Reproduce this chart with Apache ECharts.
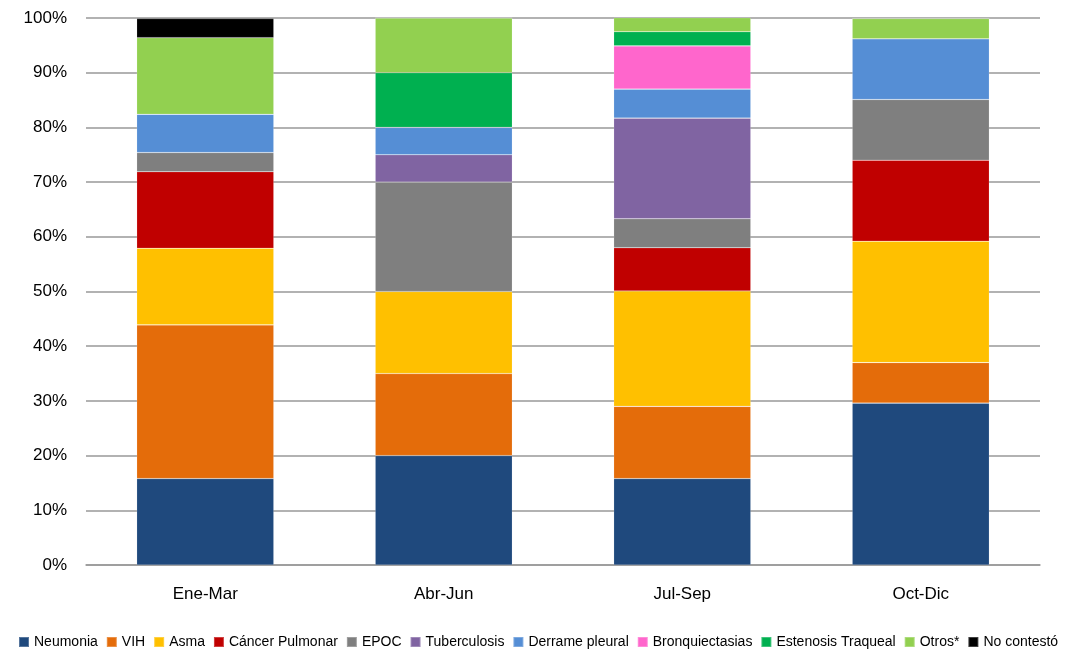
<!DOCTYPE html>
<html>
<head>
<meta charset="utf-8">
<script src="https://cdn.jsdelivr.net/npm/echarts@6/dist/echarts.min.js"></script>
<style>
  html, body { margin: 0; padding: 0; background: #fff; }
  #main { width: 1066px; height: 652px; }
</style>
</head>
<body>
<div id="main"></div>
<script>
(function () {
    'use strict';

    var categories = ['Ene-Mar', 'Abr-Jun', 'Jul-Sep', 'Oct-Dic'];
    var seriesNames = ['Neumonia', 'VIH', 'Asma', 'Cáncer Pulmonar', 'EPOC', 'Tuberculosis',
        'Derrame pleural', 'Bronquiectasias', 'Estenosis Traqueal', 'Otros*', 'No contestó'];
    var colors = ['#1f497d', '#e46c0a', '#ffc000', '#c00000', '#7f7f7f', '#8064a2',
        '#558ed5', '#ff66cc', '#00b050', '#92d050', '#000000'];

    // porcentajes por trimestre
    var neumonia    = [15.8, 20.0, 15.8, 29.6];
    var vih         = [28.1, 15.0, 13.2, 7.4];
    var asma        = [14.0, 15.0, 21.1, 22.2];
    var cancer      = [14.0, 0, 7.9, 14.8];
    var epoc        = [3.5, 20.0, 5.3, 11.1];
    var tuberculosis = [0, 5.0, 18.4, 0];
    var derrame     = [7.0, 5.0, 5.3, 11.1];
    var bronq       = [0, 0, 7.9, 0];
    var estenosis   = [0, 10.0, 2.6, 0];
    var otros       = [14.0, 10.0, 2.6, 3.7];
    var noContesto  = [3.5, 0, 0, 0];

    var valueTicks = ['0%', '10%', '20%', '30%', '40%', '50%', '60%', '70%', '80%', '90%', '100%'];

    var allData = [neumonia, vih, asma, cancer, epoc, tuberculosis, derrame, bronq, estenosis, otros, noContesto];

    var series = seriesNames.map(function (name, i) {
        return {
            name: name,
            type: 'bar',
            stack: 'total',
            barWidth: '57.5%',
            itemStyle: { color: colors[i], borderColor: 'rgba(255,255,255,0.25)', borderWidth: 0.6 },
            data: allData[i]
        };
    });

    var myChart = echarts.init(document.getElementById('main'));
    var option = {
        animation: false,
        color: colors,
        grid: { left: 86, right: 26, top: 18, bottom: 87 },
        legend: {
            data: seriesNames,
            top: 635,
            left: 18,
            width: 1048,
            padding: 0,
            itemWidth: 10,
            itemHeight: 10,
            itemGap: 8,
            icon: 'rect',
            textStyle: { fontFamily: 'Liberation Sans, Arial', fontSize: 14, color: '#000' }
        },
        xAxis: {
            type: 'category',
            data: categories,
            axisTick: { show: false },
            axisLine: { show: true, lineStyle: { color: '#999', width: 1.5 } },
            axisLabel: { fontFamily: 'Liberation Sans, Arial', fontSize: 17, color: '#000', margin: 21 }
        },
        yAxis: {
            type: 'value',
            min: 0,
            max: 100,
            interval: 10,
            axisLine: { show: false },
            axisTick: { show: false },
            splitLine: { lineStyle: { color: '#999', width: 1.5 } },
            axisLabel: {
                fontFamily: 'Liberation Sans, Arial',
                fontSize: 17,
                color: '#000',
                margin: 19,
                formatter: function (v) { return valueTicks[Math.round(v / 10)]; }
            }
        },
        series: series
    };
    myChart.setOption(option, true);
}());
</script>
</body>
</html>
